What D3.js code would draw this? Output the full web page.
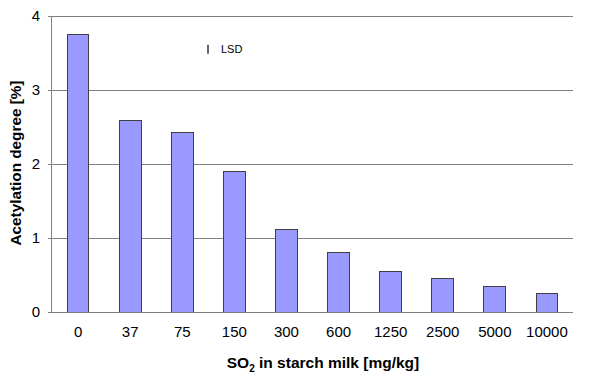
<!DOCTYPE html>
<html><head><meta charset="utf-8">
<script src="https://cdn.jsdelivr.net/npm/d3@7"></script>
<style>body{margin:0;background:#fff}svg{display:block;font-family:Arial,"Liberation Sans",sans-serif}</style>
</head><body><svg id="c" width="600" height="382"></svg>
<script>
const categories = ["0","37","75","150","300","600","1250","2500","5000","10000"];
const values = [3.75, 2.59, 2.42, 1.9, 1.12, 0.81, 0.55, 0.45, 0.35, 0.25];
const yTicks = [0, 1, 2, 3, 4];
const lsdValue = 3.55; const lsdHalf = 0.06;

const svg = d3.select("#c");
const m = {l:52, r:573, t:16, b:312};
const x = d3.scaleBand().domain(categories).range([m.l, m.r]).paddingInner(0.58).paddingOuter(0.29);
const y = d3.scaleLinear().domain([0,4]).range([m.b, m.t]);
const FF = "Arial,'Liberation Sans',sans-serif";

// gridlines
svg.append("g").selectAll("line").data(yTicks.filter(d=>d>0)).join("line")
  .attr("x1", m.l-4).attr("x2", m.r).attr("y1", d=>y(d)).attr("y2", d=>y(d))
  .attr("stroke", "#7f7f7f").attr("stroke-width", 1).attr("shape-rendering","crispEdges");

// bars
svg.append("g").selectAll("rect").data(values).join("rect")
  .attr("x", (d,i)=>x(categories[i])).attr("width", x.bandwidth())
  .attr("y", d=>y(d)).attr("height", d=>y(0)-y(d))
  .attr("fill", "#9999ff").attr("stroke", "#404040").attr("stroke-width", 1).attr("shape-rendering","crispEdges");

// y axis
const ya = svg.append("g").attr("transform", `translate(${m.l},0)`)
  .call(d3.axisLeft(y).tickValues(yTicks).tickSize(4).tickPadding(8).tickFormat(d3.format("d")));
ya.select(".domain").attr("stroke","#7f7f7f").attr("d", `M-0.5,${m.t}V${m.b}`);
ya.selectAll(".tick line").attr("stroke","#7f7f7f");
ya.selectAll("text").attr("font-size", 15).attr("fill","#000").attr("font-family",FF);

// x axis
const xa = svg.append("g").attr("transform", `translate(0,${m.b})`)
  .call(d3.axisBottom(x).tickSize(0).tickPadding(14));
xa.select(".domain").attr("stroke","#7f7f7f").attr("d", `M${m.l-4},0.5H${m.r}`);
xa.selectAll("text").attr("font-size", 15).attr("fill","#000").attr("font-family",FF);

// LSD marker
svg.append("line").attr("x1", 208).attr("x2", 208)
  .attr("y1", y(lsdValue+lsdHalf)).attr("y2", y(lsdValue-lsdHalf))
  .attr("stroke","#000").attr("stroke-width",1.2);
svg.append("text").attr("x", 221).attr("y", y(lsdValue)+4).attr("font-size", 11).text("LSD");

// axis titles
const xt = svg.append("text").attr("x", 323).attr("y", 368).attr("text-anchor","middle")
  .attr("font-size", 15.5).attr("font-weight","bold");
xt.append("tspan").text("SO");
xt.append("tspan").attr("font-size", 10).attr("dy", 4).text("2");
xt.append("tspan").attr("dy", -4).text(" in starch milk [mg/kg]");

svg.append("text").attr("transform", `translate(21,163) rotate(-90)`)
  .attr("text-anchor","middle").attr("font-size", 15.3).attr("font-weight","bold").text("Acetylation degree [%]");
</script></body></html>
